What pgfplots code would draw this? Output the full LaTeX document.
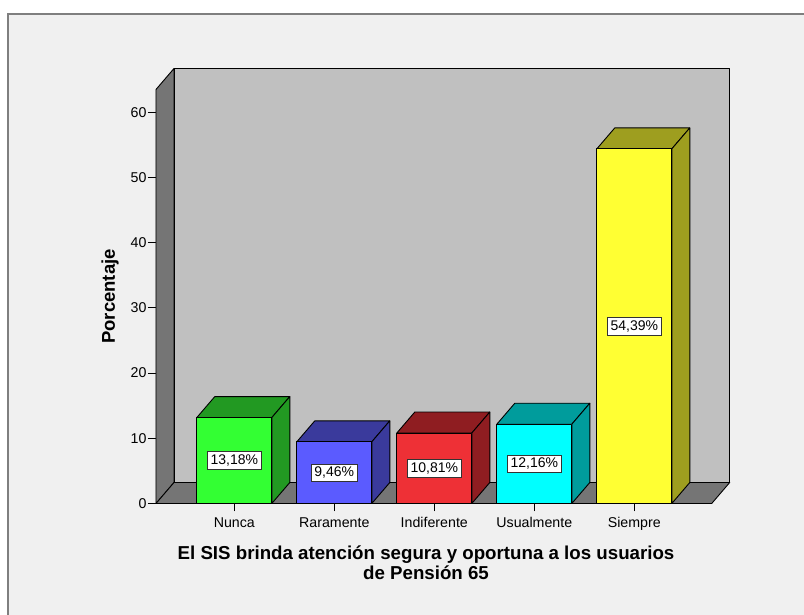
\documentclass[border=0pt]{standalone}
\usepackage{fontspec}
\setmainfont{Liberation Sans}
\usepackage{pgfplots}
\pgfplotsset{compat=1.18}
\usetikzlibrary{backgrounds,calc}

\definecolor{panel}{HTML}{F0F0F0}
\definecolor{framegray}{HTML}{7F7F7F}
\definecolor{backwall}{HTML}{C0C0C0}
\definecolor{darkwall}{HTML}{757575}
\definecolor{gfront}{HTML}{33FF33}\definecolor{gdark}{HTML}{229922}
\definecolor{bfront}{HTML}{5B5BFF}\definecolor{bdark}{HTML}{3A3A9C}
\definecolor{rfront}{HTML}{EE3036}\definecolor{rdark}{HTML}{8F1D21}
\definecolor{cfront}{HTML}{00FFFF}\definecolor{cdark}{HTML}{009C9C}
\definecolor{yfront}{HTML}{FFFF33}\definecolor{ydark}{HTML}{9E9E1F}

\tikzset{edge/.style={draw=black, line width=0.9pt, line join=round},
  valbox/.style={fill=white, draw=black!80, line width=0.6pt, inner sep=3pt,
    font=\fontsize{14}{15}\selectfont}}

% depth of the 3D look: 0.18 x units, 3.22 y units
% #1 position, #2 value, #3 front colour, #4 top/side colour
\newcommand{\threedbar}[4]{%
  \fill[#4, edge] (axis cs:{#1-0.375},{#2}) -- (axis cs:{#1+0.375},{#2})
    -- (axis cs:{#1+0.555},{#2+3.22}) -- (axis cs:{#1-0.195},{#2+3.22}) -- cycle;
  \fill[#4, edge] (axis cs:{#1+0.375},0) -- (axis cs:{#1+0.555},3.22)
    -- (axis cs:{#1+0.555},{#2+3.22}) -- (axis cs:{#1+0.375},{#2}) -- cycle;
  \addplot[ybar, bar width=0.75, bar shift=0pt, fill=#3, edge] coordinates {(#1,#2)};
  \node[valbox] at (axis cs:{#1},{#2/2})
    {\pgfmathprintnumber[fixed,fixed zerofill,precision=2,use comma,assume math mode=true]{#2}\%};
}

\begin{document}
\begin{tikzpicture}
\begin{axis}[
  x=100pt, y=6.52pt,
  xmin=0.217, xmax=5.774, ymin=0, ymax=63.5,
  axis lines=left, axis line style={draw=none},
  clip=false,
  tick align=outside, major tick length=8pt,
  tick style={black, line width=0.8pt},
  xtick={1,2,3,4,5},
  xticklabels={Nunca,Raramente,Indiferente,Usualmente,Siempre},
  ytick={0,10,...,60},
  tick label style={font=\fontsize{14.2}{15}\selectfont},
  xticklabel style={yshift=-2.5pt},
  yticklabel style={xshift=2pt},
  /pgf/number format/assume math mode=true,
  ylabel={Porcentaje},
  ylabel style={font=\bfseries\fontsize{18.5}{20}\selectfont, at={(rel axis cs:0,0.5)},
    anchor=center, yshift=46pt},
  xlabel={El SIS brinda atención segura y oportuna a los usuarios\\de Pensión 65},
  xlabel style={font=\bfseries\fontsize{18.7}{20}\selectfont, align=center,
    at={(rel axis cs:0.4859,0)}, anchor=north, inner sep=0pt, yshift=-42.5pt},
]
\coordinate (O) at (axis cs:0.217,0);
% walls and floor
\fill[backwall, edge] (axis cs:0.397,3.22) rectangle (axis cs:5.954,66.72);
\fill[darkwall, edge] (axis cs:0.217,0) -- (axis cs:0.217,63.5) -- (axis cs:0.397,66.72)
  -- (axis cs:0.397,3.22) -- cycle;
\fill[darkwall, edge] (axis cs:0.217,0) -- (axis cs:5.774,0) -- (axis cs:5.954,3.22)
  -- (axis cs:0.397,3.22) -- cycle;
% bars
\threedbar{1}{13.18}{gfront}{gdark}
\threedbar{2}{9.46}{bfront}{bdark}
\threedbar{3}{10.81}{rfront}{rdark}
\threedbar{4}{12.16}{cfront}{cdark}
\threedbar{5}{54.39}{yfront}{ydark}
\end{axis}
\begin{scope}[on background layer]
  \fill[white] ($(O)+(-156pt,-111.5pt)$) rectangle ($(O)+(648pt,503.5pt)$);
  \fill[panel] ($(O)+(-148pt,-111.5pt)$) rectangle ($(O)+(648pt,489.5pt)$);
  \draw[framegray, line width=1.6pt] ($(O)+(-148pt,-112pt)$) -- ($(O)+(-148pt,489.5pt)$)
    -- ($(O)+(649pt,489.5pt)$);
\end{scope}
\pgfresetboundingbox
\path[use as bounding box] ($(O)+(-156pt,-111.5pt)$) rectangle ($(O)+(648pt,503.5pt)$);
\end{tikzpicture}
\end{document}
